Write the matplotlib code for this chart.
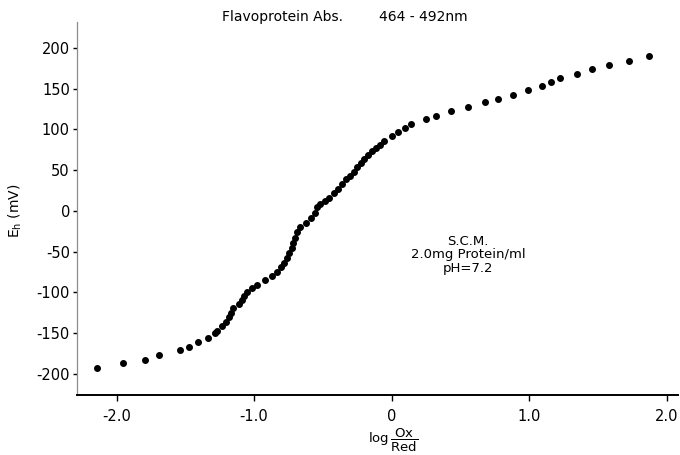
import matplotlib.pyplot as plt

plt.rcParams['axes.unicode_minus'] = False

# log(Ox/Red) vs Eh (mV)
log_ox_red = [-2.145, -1.956, -1.792, -1.690, -1.537, -1.476, -1.407, -1.338, -1.283, -1.268,
              -1.236, -1.207, -1.185, -1.171, -1.152, -1.113, -1.089, -1.074, -1.055, -1.018,
              -0.982, -0.919, -0.873, -0.836, -0.807, -0.783, -0.764, -0.745, -0.727, -0.716,
              -0.703, -0.691, -0.667, -0.623, -0.589, -0.558, -0.541, -0.521, -0.485, -0.454,
              -0.420, -0.388, -0.359, -0.332, -0.303, -0.274, -0.250, -0.225, -0.201, -0.170,
              -0.145, -0.114, -0.085, -0.054, 0.000, 0.046, 0.097, 0.140, 0.247, 0.322,
              0.429, 0.557, 0.679, 0.775, 0.884, 0.995, 1.095, 1.156, 1.224, 1.348,
              1.459, 1.578, 1.728, 1.873]
eh_mv = [-192.3, -186.5, -182.4, -177.0, -170.9, -166.5, -160.7, -155.8, -150.1, -146.9,
         -141.1, -135.8, -130.1, -125.5, -119.4, -114.1, -109.2, -104.3, -99.0, -94.8,
         -90.8, -84.7, -79.8, -74.5, -69.1, -64.2, -58.0, -51.9, -45.8, -39.6,
         -33.5, -25.4, -19.3, -14.4, -9.0, -2.8, 4.5, 8.6, 12.6, 15.6,
         21.7, 26.6, 32.8, 38.9, 42.9, 48.2, 53.6, 58.5, 63.4, 68.7,
         74.0, 76.9, 81.0, 86.3, 92.0, 96.9, 102.2, 107.1, 112.5, 116.9,
         122.3, 128.0, 133.4, 137.4, 142.7, 148.5, 153.4, 158.3, 163.2, 168.5,
         173.9, 179.5, 184.4, 189.8]

x_ticks = [-2.0, -1.0, 0.0, 1.0, 2.0]
x_ticklabels = ['-2.0', '-1.0', '0', '1.0', '2.0']
y_ticks = [200, 150, 100, 50, 0, -50, -100, -150, -200]

fig = plt.figure(figsize=(6.8, 4.55), dpi=100)
ax = fig.add_axes([0.113, 0.132, 0.884, 0.820])

ax.plot(log_ox_red, eh_mv, 'o', color='black', markersize=4.0, linestyle='none')

ax.set_xlim(-2.289, 2.082)
ax.set_ylim(-225.8, 231.9)
ax.set_xticks(x_ticks)
ax.set_xticklabels(x_ticklabels)
ax.set_yticks(y_ticks)

ax.spines['top'].set_visible(False)
ax.spines['right'].set_visible(False)
ax.spines['bottom'].set_linewidth(1.4)
ax.spines['left'].set_color('0.55')
ax.spines['left'].set_linewidth(0.9)
ax.tick_params(axis='x', direction='out', length=4, width=1, labelsize=10.5, pad=6)
ax.tick_params(axis='y', direction='out', length=3, width=1, labelsize=10.5, pad=2)

ax.text(0.555, -54, 'S.C.M.\n2.0mg Protein/ml\npH=7.2', ha='center', va='center',
        fontsize=9.5, linespacing=1.05)

fig.text(0.022, 0.536, r'E$_\mathrm{h}$ (mV)', rotation=90, ha='center', va='center', fontsize=10)
fig.text(0.578, 0.032, r'$\mathrm{log}\,\dfrac{\mathrm{Ox}}{\mathrm{Red}}$', ha='center', va='center', fontsize=9.5)
fig.text(0.326, 0.962, 'Flavoprotein Abs.', ha='left', va='center', fontsize=10)
fig.text(0.558, 0.962, '464 - 492nm', ha='left', va='center', fontsize=10)

fig.savefig('out.png', dpi=100)
